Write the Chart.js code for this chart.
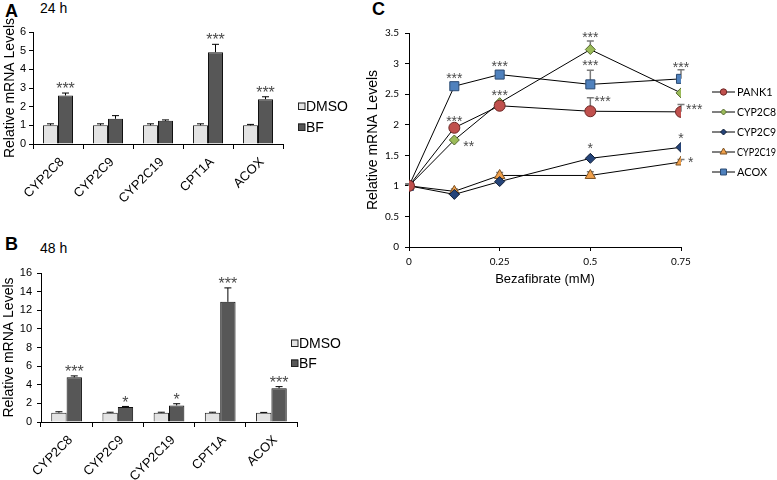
<!DOCTYPE html>
<html><head><meta charset="utf-8">
<script src="https://cdn.jsdelivr.net/npm/chart.js@4"></script>
<style>
body{margin:0;background:#fff;width:777px;height:480px;position:relative;overflow:hidden;font-family:"Liberation Sans",Arial,sans-serif;}
canvas{position:absolute;}
.lbl{position:absolute;color:#000;white-space:nowrap;}
</style></head><body>
<div class="lbl" style="left:5px;top:1px;font-size:18px;font-weight:bold">A</div>
<div class="lbl" style="left:40px;top:0px;font-size:14px">24 h</div>
<div class="lbl" style="left:5px;top:234px;font-size:18px;font-weight:bold">B</div>
<div class="lbl" style="left:40px;top:240px;font-size:14px">48 h</div>
<div class="lbl" style="left:372px;top:-1px;font-size:18px;font-weight:bold">C</div>
<canvas id="cA" width="370" height="240" style="left:0;top:0"></canvas>
<canvas id="cB" width="370" height="240" style="left:0;top:240px"></canvas>
<canvas id="cC" width="447" height="300" style="left:330px;top:0"></canvas>
<script>
// ---------- DATA ----------
const genes = ['CYP2C8','CYP2C9','CYP2C19','CPT1A','ACOX'];
const barSeries = ['DMSO','BF'];
// Panel A: 24 h
const dmso24 = [1, 1, 1, 1, 1];
const dmso24Err = [0.08, 0.08, 0.08, 0.08, 0.05];
const bf24 = [2.6, 1.35, 1.24, 4.92, 2.4];
const bf24Err = [0.13, 0.17, 0.05, 0.42, 0.13];
const bf24Stars = ['***', '', '', '***', '***'];
const yTicksA = [0, 1, 2, 3, 4, 5, 6];
// Panel B: 48 h
const dmso48 = [1, 1, 1, 1, 1];
const dmso48Err = [0.1, 0.05, 0.05, 0.05, 0.03];
const bf48 = [4.8, 1.62, 1.78, 12.9, 3.62];
const bf48Err = [0.15, 0.05, 0.18, 1.5, 0.18];
const bf48Stars = ['***', '*', '*', '***', '***'];
const yTicksB = [0, 2, 4, 6, 8, 10, 12, 14, 16];
// Panel C: dose response
const doses = [0, 0.125, 0.25, 0.5, 0.75];
const xTicksC = [0, 0.25, 0.5, 0.75];
const yTicksC = [0, 0.5, 1, 1.5, 2, 2.5, 3, 3.5];
const lineSeries = ['PANK1', 'CYP2C8', 'CYP2C9', 'CYP2C19', 'ACOX'];
const pank1 = [1, 1.95, 2.31, 2.22, 2.21];
const pank1Err = [0.03, 0, 0.03, 0.22, 0.12];
const pank1Stars = ['', '***', '', '***', '***'];
const cyp2c8 = [1, 1.75, 2.36, 3.23, 2.52];
const cyp2c8Err = [0.03, 0, 0, 0.14, 0];
const cyp2c8Stars = ['', '**', '***', '***', ''];
const cyp2c9 = [1, 0.86, 1.07, 1.45, 1.63];
const cyp2c9Err = [0.03, 0, 0, 0, 0];
const cyp2c9Stars = ['', '', '', '*', '*'];
const cyp2c19 = [1, 0.91, 1.17, 1.17, 1.39];
const cyp2c19Err = [0.03, 0.04, 0.05, 0.06, 0.04];
const cyp2c19Stars = ['', '', '', '', '*'];
const acox = [1, 2.63, 2.82, 2.66, 2.75];
const acoxErr = [0.03, 0, 0, 0.23, 0.15];
const acoxStars = ['', '***', '***', '***', '***'];

// ---------- STYLE ----------
const SANS = '"Liberation Sans", Arial, sans-serif';
const LATO = 'Lato, "Liberation Sans", sans-serif';
const LABEL_ANGLE = 45; // degrees
// star label placement for panel C: [dx, dy, align] relative to point
const starPlaceC = [
  [null, [0,-10,'center'], null, [4,-13,'left'], [5,-6,'left']],
  [null, [9,3,'left'], [0,-11,'center'], [0,-15,'center'], null],
  [null, null, null, [0,-13,'center'], [0,-12,'center']],
  [null, null, null, null, [7,-3,'left']],
  [null, [0,-11,'center'], [0,-12,'center'], [0,-22,'center'], [0,-15,'center']]
];

function valOf(d){ return (d !== null && typeof d === 'object') ? d.y : d; }

function drawMarker(ctx, style, x, y, r, fill, stroke){
  ctx.save(); ctx.fillStyle = fill; ctx.strokeStyle = stroke; ctx.lineWidth = 1;
  ctx.beginPath();
  if (style === 'circle') ctx.arc(x, y, r, 0, Math.PI*2);
  else if (style === 'rectRot') { ctx.moveTo(x-r,y); ctx.lineTo(x,y-r); ctx.lineTo(x+r,y); ctx.lineTo(x,y+r); ctx.closePath(); }
  else if (style === 'rect') { const s = r*Math.SQRT1_2; ctx.rect(x-s, y-s, 2*s, 2*s); }
  else if (style === 'triangle') { let a = 0; ctx.moveTo(x+Math.sin(a)*r, y-Math.cos(a)*r); a += 2*Math.PI/3; ctx.lineTo(x+Math.sin(a)*r, y-Math.cos(a)*r); a += 2*Math.PI/3; ctx.lineTo(x+Math.sin(a)*r, y-Math.cos(a)*r); ctx.closePath(); }
  ctx.fill(); ctx.stroke(); ctx.restore();
}

function drawStar(ctx, text, x, yCenter, align, size){
  ctx.save();
  ctx.font = size + 'px ' + SANS;
  ctx.fillStyle = '#4a4a4a';
  ctx.textAlign = align; ctx.textBaseline = 'alphabetic';
  ctx.fillText(text, x, yCenter + 0.57*size);
  ctx.restore();
}

// error bars (bars: after, lines: before markers) and significance stars
const errorBarPlugin = {
  id: 'errorBars',
  beforeDatasetsDraw(chart){ if (chart.config.type === 'line') this._draw(chart); },
  afterDatasetsDraw(chart){
    if (chart.config.type === 'bar') this._draw(chart);
    this._stars(chart);
  },
  _draw(chart){
    const ctx = chart.ctx, ys = chart.scales.y;
    const isBar = chart.config.type === 'bar';
    chart.data.datasets.forEach((ds, di) => {
      if (!ds.errors) return;
      const meta = chart.getDatasetMeta(di);
      meta.data.forEach((el, i) => {
        const e = ds.errors[i]; if (!e) return;
        const v = valOf(ds.data[i]);
        const top = ys.getPixelForValue(v + e);
        const base = ys.getPixelForValue(v);
        ctx.save();
        ctx.strokeStyle = isBar ? '#000' : '#7a7a7a';
        ctx.lineWidth = isBar ? 1 : 1.5;
        ctx.beginPath();
        ctx.moveTo(el.x, base); ctx.lineTo(el.x, top);
        ctx.moveTo(el.x - 3.5, top); ctx.lineTo(el.x + 3.5, top);
        ctx.stroke(); ctx.restore();
      });
    });
  },
  _stars(chart){
    const ctx = chart.ctx, ys = chart.scales.y;
    const isBar = chart.config.type === 'bar';
    chart.data.datasets.forEach((ds, di) => {
      if (!ds.stars) return;
      const meta = chart.getDatasetMeta(di);
      meta.data.forEach((el, i) => {
        const s = ds.stars[i]; if (!s) return;
        const v = valOf(ds.data[i]);
        const e = ds.errors ? (ds.errors[i] || 0) : 0;
        if (isBar) {
          drawStar(ctx, s, el.x, ys.getPixelForValue(v + e) - 8, 'center', 16);
        } else {
          const p = starPlaceC[di][i];
          drawStar(ctx, s, el.x + p[0], ys.getPixelForValue(v) + p[1], p[2], 14);
        }
      });
    });
  }
};

// rotated category labels for bar charts
const rotLabelPlugin = {
  id: 'rotLabels',
  afterDraw(chart){
    if (chart.config.type !== 'bar') return;
    const ctx = chart.ctx, xs = chart.scales.x;
    const ang = LABEL_ANGLE * Math.PI / 180;
    const ca = Math.cos(ang), sa = Math.sin(ang);
    ctx.save();
    ctx.font = '13px ' + SANS; ctx.fillStyle = '#000';
    chart.data.labels.forEach((lab, i) => {
      const x = xs.getPixelForTick(i);
      const ax = x + 4, ay = xs.top + 16;   // right end of the label
      const w = ctx.measureText(lab).width;
      const sx = ax - w * ca, sy = ay + w * sa;
      ctx.setTransform(ca, -sa, sa, ca, sx, sy);
      ctx.textAlign = 'left'; ctx.textBaseline = 'middle';
      ctx.fillText(lab, 0, 0);
    });
    ctx.restore();
  }
};

// custom legends
const legendPlugin = {
  id: 'customLegend',
  afterDraw(chart, args, opts){
    const ctx = chart.ctx;
    chart.data.datasets.forEach((ds, i) => {
      const y = opts.y0 + i*opts.dy;
      const x = opts.x0;
      ctx.save();
      if (chart.config.type === 'bar') {
        ctx.fillStyle = ds.backgroundColor; ctx.strokeStyle = '#222'; ctx.lineWidth = 1;
        ctx.fillRect(x, y-3.5, 7, 7); ctx.strokeRect(x+0.5, y-3.5+0.5, 6.5, 6.5);
        ctx.fillStyle = '#000'; ctx.font = '14px ' + SANS;
        ctx.textAlign = 'left'; ctx.textBaseline = 'middle';
        ctx.fillText(ds.label, x + 8, y + 1);
      } else {
        ctx.strokeStyle = '#000'; ctx.lineWidth = 1;
        ctx.beginPath(); ctx.moveTo(x, y); ctx.lineTo(x + 23, y); ctx.stroke();
        drawMarker(ctx, ds.pointStyle, x + 11.5, y, ds.legendRadius, ds.pointBackgroundColor, ds.pointBorderColor);
        ctx.fillStyle = '#000'; ctx.font = '11px ' + LATO;
        ctx.textAlign = 'left'; ctx.textBaseline = 'middle';
        ctx.fillText(ds.label, x + 25, y + 0.5, 39);
      }
      ctx.restore();
    });
  }
};

function barChart(id, dmso, dmsoErr, bf, bfErr, bfStars, yTicks, geo, legendPos){
  const c = document.getElementById(id);
  return new Chart(c, {
    type: 'bar',
    data: {
      labels: genes,
      datasets: [
        {label: barSeries[0], data: dmso, errors: dmsoErr, backgroundColor: '#e3e3e3', borderColor: '#222', borderWidth: 1, borderSkipped: 'bottom', categoryPercentage: 0.6, barPercentage: 1.0},
        {label: barSeries[1], data: bf, errors: bfErr, stars: bfStars, backgroundColor: '#575757', borderColor: '#111', borderWidth: 1, borderSkipped: 'bottom', categoryPercentage: 0.6, barPercentage: 1.0}
      ]
    },
    options: {
      responsive: false, animation: false, devicePixelRatio: 1,
      layout: {padding: {left: geo.left, right: geo.right, top: geo.top, bottom: geo.bottom}},
      plugins: {legend: {display: false}, tooltip: {enabled: false}, customLegend: legendPos},
      scales: {
        x: {
          grid: {display: true, drawOnChartArea: false, drawTicks: true, tickLength: 5, color: '#000', offset: true},
          border: {display: true, color: '#000', width: 1},
          ticks: {display: false, autoSkip: false},
          afterFit(s){ s.height = geo.xh; }
        },
        y: {
          min: yTicks[0], max: yTicks[yTicks.length-1],
          afterBuildTicks(s){ s.ticks = yTicks.map(v => ({value: v})); },
          grid: {display: true, drawOnChartArea: false, drawTicks: true, tickLength: 4, color: '#000'},
          border: {display: true, color: '#000', width: 1},
          ticks: {color: '#000', font: {family: SANS, size: 11}, padding: geo.tp},
          title: {display: true, text: 'Relative mRNA Levels', color: '#000', font: {family: SANS, size: 14}, padding: 0},
          afterFit(s){ s.width = geo.yw; }
        }
      }
    },
    plugins: [errorBarPlugin, legendPlugin, rotLabelPlugin]
  });
}

barChart('cA', dmso24, dmso24Err, bf24, bf24Err, bf24Stars, yTicksA,
  {left: 2, right: 87, top: 32, bottom: 26, xh: 70, yw: 31, tp: 3}, {x0: 298, y0: 106, dy: 21});
barChart('cB', dmso48, dmso48Err, bf48, bf48Err, bf48Stars, yTicksB,
  {left: 1, right: 73, top: 33, bottom: 8, xh: 50, yw: 40, tp: 5}, {x0: 291, y0: 103, dy: 20});

// Panel C
const lineStyles = [
  {pointStyle: 'circle', r: 5.5, lr: 3.2, fill: '#c0504d', stroke: '#6e2826'},
  {pointStyle: 'rectRot', r: 5, lr: 3, fill: '#9bbb59', stroke: '#55692f'},
  {pointStyle: 'rectRot', r: 5, lr: 3, fill: '#254479', stroke: '#0f1d36'},
  {pointStyle: 'triangle', r: 6, lr: 4, fill: '#f0a04b', stroke: '#7a5123'},
  {pointStyle: 'rect', r: 6.4, lr: 4.2, fill: '#4f81bd', stroke: '#2a4a72'}
];
const lineValues = [pank1, cyp2c8, cyp2c9, cyp2c19, acox];
const lineErrors = [pank1Err, cyp2c8Err, cyp2c9Err, cyp2c19Err, acoxErr];
const lineStars = [pank1Stars, cyp2c8Stars, cyp2c9Stars, cyp2c19Stars, acoxStars];

new Chart(document.getElementById('cC'), {
  type: 'line',
  data: {
    datasets: lineSeries.map((name, k) => ({
      label: name,
      data: doses.map((d, i) => ({x: d, y: lineValues[k][i]})),
      errors: lineErrors[k], stars: lineStars[k],
      borderColor: '#000', borderWidth: 1, fill: false, tension: 0,
      pointStyle: lineStyles[k].pointStyle, pointRadius: lineStyles[k].r, legendRadius: lineStyles[k].lr,
      pointBackgroundColor: lineStyles[k].fill, pointBorderColor: lineStyles[k].stroke, pointBorderWidth: 1
    }))
  },
  options: {
    responsive: false, animation: false, devicePixelRatio: 1,
    layout: {padding: {left: 31, right: 96, top: 33, bottom: 9}},
    plugins: {legend: {display: false}, tooltip: {enabled: false}, customLegend: {x0: 382, y0: 92, dy: 20}},
    scales: {
      x: {
        type: 'linear', min: xTicksC[0], max: xTicksC[xTicksC.length-1],
        afterBuildTicks(s){ s.ticks = xTicksC.map(v => ({value: v})); },
        grid: {display: true, drawOnChartArea: false, drawTicks: true, tickLength: 4, color: '#000'},
        border: {display: true, color: '#000', width: 1},
        ticks: {color: '#000', font: {family: LATO, size: 10}, padding: 5, maxRotation: 0, callback: (v) => String(v)},
        title: {display: true, text: 'Bezafibrate (mM)', color: '#000', font: {family: SANS, size: 13}},
        afterFit(s){ s.height = 44; }
      },
      y: {
        min: yTicksC[0], max: yTicksC[yTicksC.length-1],
        afterBuildTicks(s){ s.ticks = yTicksC.map(v => ({value: v})); },
        grid: {display: true, drawOnChartArea: false, drawTicks: true, tickLength: 4, color: '#000'},
        border: {display: true, color: '#000', width: 1},
        ticks: {color: '#000', font: {family: LATO, size: 10}, padding: 6, callback: (v) => String(v)},
        title: {display: true, text: 'Relative mRNA Levels', color: '#000', font: {family: SANS, size: 14}},
        afterFit(s){ s.width = 48; }
      }
    }
  },
  plugins: [errorBarPlugin, legendPlugin]
});
</script>
</body></html>
